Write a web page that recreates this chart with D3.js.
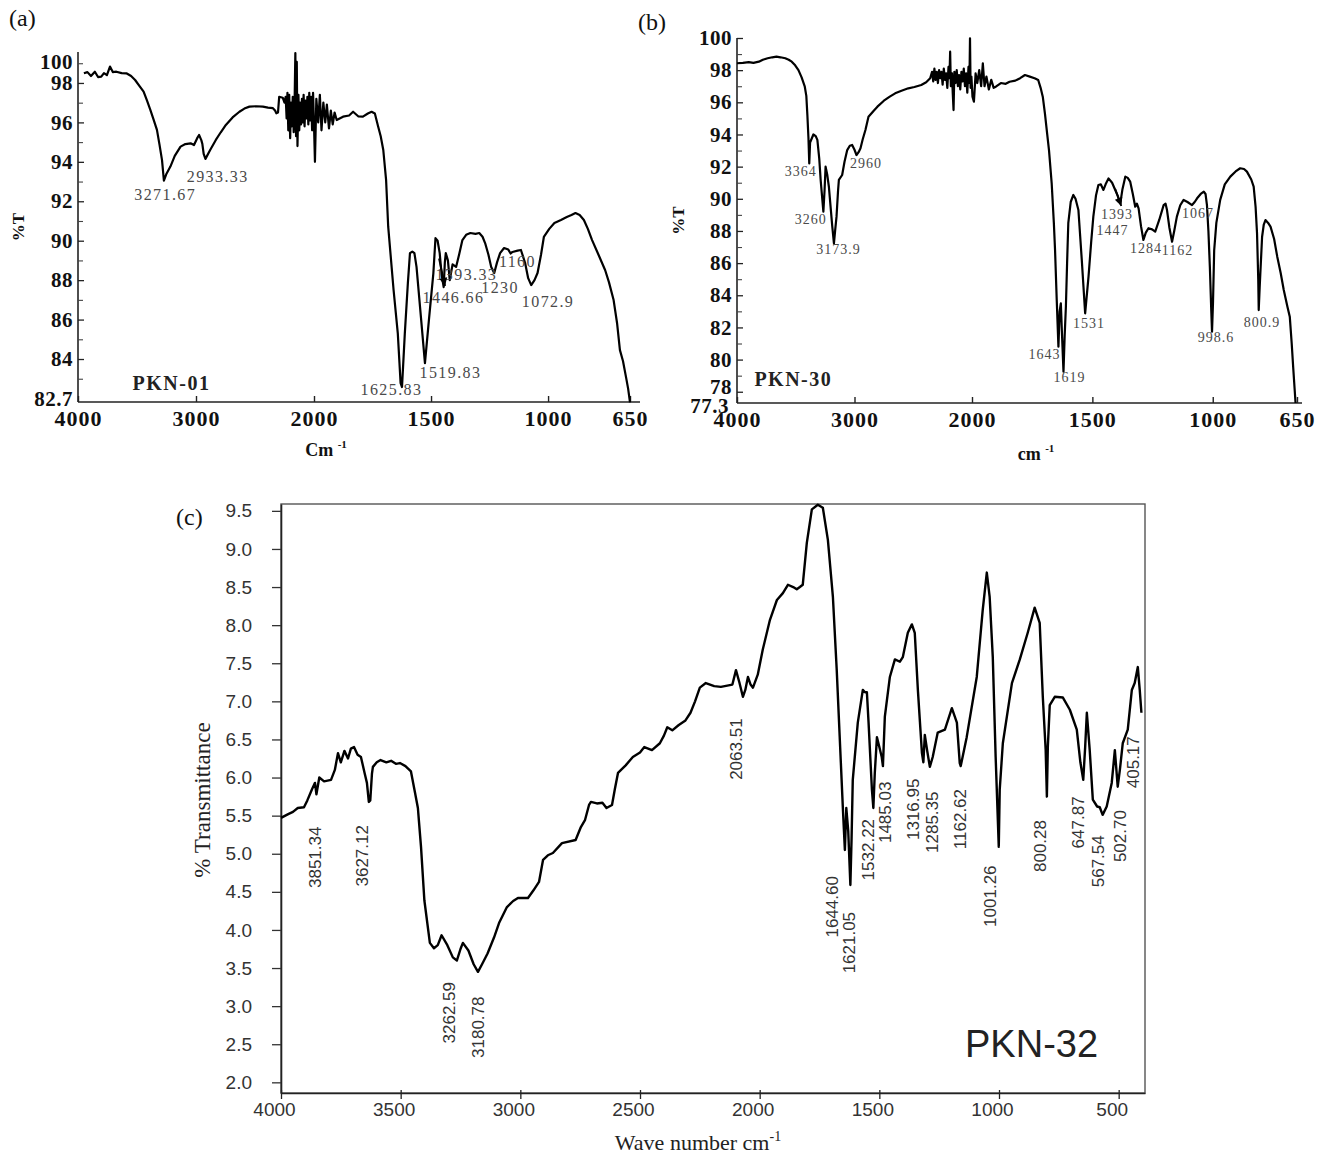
<!DOCTYPE html>
<html>
<head>
<meta charset="utf-8">
<script src="https://cdn.jsdelivr.net/npm/d3@7"></script>
<style>
  body { margin: 0; background: #fff; }
  svg { display: block; }
</style>
</head>
<body>
<div id="chart"></div>
<script>
/* FTIR spectra of PKN-01, PKN-30 and PKN-32 */

/* ---- data: [wave number, %T] ---- */
const spectrumA = [
  [3950,98.49],[3920,98.55],[3890,98.35],[3857,98.57],[3830,98.30],[3803,98.32],[3780,98.50],[3755,98.40],
  [3729,98.83],[3705,98.55],[3675,98.57],[3630,98.50],[3590,98.49],[3550,98.35],[3516,98.15],[3480,97.85],
  [3444,97.56],[3415,97.10],[3387,96.63],[3360,96.15],[3331,95.62],[3310,94.90],[3288,94.09],[3272,93.05],
  [3250,93.40],[3217,93.76],[3180,94.30],[3131,94.77],[3090,94.90],[3046,94.94],[3017,94.85],[2990,95.20],
  [2974,95.36],[2955,95.10],[2946,94.90],[2935,94.40],[2920,94.15],[2880,94.60],[2832,95.11],[2790,95.50],
  [2747,95.87],[2690,96.25],[2632,96.54],[2590,96.70],[2547,96.80],[2490,96.82],[2433,96.80],[2390,96.75],
  [2348,96.72],[2330,96.60],[2319,96.46],[2305,96.50],[2295,97.30],[2265,97.25],
  [2250,97.0],[2240,97.3],[2232,96.2],[2225,97.5],[2218,95.6],[2210,97.4],[2202,95.2],[2195,97.0],
  [2188,95.8],[2180,97.3],[2172,95.5],[2165,96.8],[2158,99.52],[2152,95.3],[2146,99.07],[2140,94.8],
  [2132,97.4],[2125,95.6],[2118,97.0],[2110,95.9],[2102,97.2],[2095,96.0],[2088,97.4],[2080,95.8],
  [2072,97.1],[2064,96.2],[2056,97.3],[2048,95.9],[2040,97.5],[2032,96.1],[2024,97.3],[2016,95.6],
  [2008,97.5],[2000,95.9],[1996,94.0],[1990,97.2],[1982,96.0],[1975,97.4],[1968,95.6],[1960,97.0],
  [1952,96.0],[1945,96.9],[1936,95.7],[1928,96.6],[1920,95.9],[1912,96.5],[1903,96.12],[1876,96.29],
  [1850,96.35],[1833,96.54],[1810,96.30],[1791,96.29],[1770,96.45],[1754,96.54],[1740,96.45],[1726,95.79],
  [1715,95.30],[1704,94.60],[1692,93.08],[1683,90.71],[1660,87.5],[1642,85.3],[1630,82.78],[1624,82.58],
  [1612,85.3],[1599,87.85],[1590,89.37],[1580,89.45],[1571,89.37],[1562,88.67],[1543,86.1],[1526,83.79],
  [1509,85.98],[1490,88.36],[1481,90.13],[1472,90.0],[1463,89.37],[1455,88.3],[1446,87.65],[1441,88.9],
  [1437,89.37],[1428,89.0],[1420,88.0],[1408,88.8],[1393,88.67],[1380,89.3],[1366,90.03],[1350,90.3],
  [1332,90.39],[1310,90.35],[1294,90.39],[1280,90.2],[1269,89.88],[1255,89.3],[1243,88.67],[1230,88.36],
  [1218,88.9],[1205,89.37],[1188,89.63],[1170,89.55],[1160,89.35],[1152,89.43],[1130,89.5],[1116,89.53],
  [1098,88.87],[1085,88.1],[1072,87.75],[1058,88.0],[1045,88.36],[1030,89.3],[1018,90.19],[995,90.6],
  [973,90.9],[945,91.05],[920,91.2],[900,91.3],[883,91.4],[865,91.3],[847,91.05],[830,90.6],
  [812,90.03],[785,89.3],[756,88.5],[740,87.9],[720,86.99],[705,85.8],[693,84.45],[680,83.9],
  [667,83.08],[658,82.5],[650,81.8]
];

const spectrumB = [
  [4000,98.43],[3950,98.45],[3900,98.50],[3860,98.45],[3814,98.53],[3780,98.65],[3739,98.74],[3700,98.80],
  [3664,98.84],[3630,98.80],[3589,98.74],[3560,98.65],[3534,98.53],[3505,98.30],[3477,98.0],[3450,97.55],
  [3423,96.97],[3410,96.40],[3401,95.2],[3392,93.8],[3385,92.2],[3378,93.5],[3350,94.0],[3330,93.9],
  [3316,93.66],[3300,92.5],[3288,91.17],[3265,89.2],[3255,90.5],[3246,92.0],[3232,91.5],[3218,90.75],
  [3200,89.2],[3189,88.27],[3175,87.23],[3165,88.0],[3153,88.89],[3140,90.5],[3133,91.17],[3105,91.48],
  [3085,92.3],[3062,93.03],[3040,93.30],[3020,93.35],[3000,93.05],[2983,92.72],[2965,92.9],[2949,93.14],
  [2930,93.7],[2907,94.28],[2881,95.1],[2840,95.45],[2805,95.73],[2750,96.1],[2700,96.35],[2654,96.56],
  [2600,96.72],[2542,96.87],[2490,96.95],[2432,97.08],[2390,97.25],[2356,97.5],
  [2340,97.9],[2330,97.3],[2320,98.1],[2310,97.4],[2300,97.9],[2290,97.2],[2280,98.0],[2270,97.5],
  [2260,97.9],[2250,97.1],[2240,98.1],[2230,97.4],[2220,97.8],[2210,96.9],[2200,98.2],[2192,97.5],
  [2186,99.15],[2180,97.0],[2170,97.8],[2164,96.6],[2157,95.52],[2150,97.9],[2140,97.2],[2130,98.0],
  [2120,97.0],[2110,97.7],[2100,96.8],[2090,97.9],[2080,97.3],[2070,98.1],[2060,97.0],[2050,97.8],
  [2040,96.6],[2030,98.2],[2022,97.2],[2017,99.98],[2012,96.9],[2005,97.6],[1998,96.35],[1992,96.04],
  [1985,97.8],[1978,97.2],[1970,98.0],[1962,97.0],[1955,98.43],[1948,97.0],[1940,97.6],[1930,96.8],
  [1920,97.4],[1910,96.9],[1901,96.97],[1880,97.2],[1860,97.15],[1844,97.28],[1820,97.35],[1800,97.5],
  [1780,97.7],[1760,97.6],[1740,97.5],[1725,97.39],[1715,96.9],[1706,96.35],[1697,95.3],[1688,94.07],
  [1680,93.0],[1669,90.96],[1660,88.5],[1655,86.8],[1648,83.7],[1641,80.8],[1636,83.0],[1631,83.5],
  [1626,81.5],[1620,79.25],[1615,81.5],[1610,83.29],[1605,86.0],[1600,88.48],[1590,89.8],[1579,90.24],
  [1570,90.0],[1558,89.3],[1544,86.2],[1530,82.88],[1516,85.16],[1505,87.3],[1496,88.89],[1485,90.2],
  [1475,90.86],[1465,90.9],[1454,90.55],[1445,90.9],[1433,91.27],[1418,91.0],[1405,90.55],[1395,90.2],
  [1384,89.72],[1375,90.6],[1363,91.38],[1353,91.3],[1343,91.07],[1332,90.3],[1322,89.51],[1315,89.7],
  [1308,89.4],[1298,88.3],[1288,87.44],[1278,87.9],[1267,88.17],[1252,88.1],[1239,87.96],[1222,88.7],
  [1204,89.61],[1196,89.7],[1190,89.3],[1180,88.2],[1169,87.33],[1160,88.0],[1149,88.89],[1135,89.6],
  [1121,89.93],[1105,89.8],[1086,89.61],[1075,89.8],[1065,90.03],[1050,90.3],[1037,90.44],[1030,90.3],
  [1024,89.6],[1018,88.0],[1012,85.78],[1006,83.0],[1003,81.74],[999,83.5],[994,86.8],[985,88.5],
  [969,89.93],[950,90.9],[927,91.38],[905,91.7],[886,91.9],[870,91.85],[858,91.69],[840,91.2],
  [830,90.76],[822,89.5],[816,87.85],[811,85.0],[809,83.08],[805,84.5],[795,87.64],[788,88.4],
  [781,88.68],[770,88.5],[760,88.27],[745,87.5],[732,86.4],[718,85.4],[705,84.33],[690,83.3],
  [680,82.67],[672,81.0],[666,79.56],[660,78.2],[656,77.3]
];

const spectrumC = [
  [4000,5.47],[3970,5.52],[3950,5.55],[3930,5.60],[3904,5.61],[3890,5.70],[3870,5.85],[3858,5.93],
  [3852,5.78],[3840,6.0],[3820,5.95],[3791,5.97],[3775,6.10],[3762,6.32],[3750,6.20],[3735,6.35],
  [3720,6.25],[3708,6.38],[3695,6.40],[3680,6.30],[3666,6.27],[3650,6.05],[3641,5.93],[3633,5.68],
  [3627,5.70],[3620,6.05],[3616,6.14],[3600,6.20],[3584,6.23],[3560,6.20],[3540,6.22],[3520,6.18],
  [3503,6.19],[3480,6.15],[3457,6.08],[3440,5.80],[3428,5.60],[3424,5.44],[3415,5.09],[3401,4.39],
  [3378,3.83],[3361,3.76],[3345,3.80],[3329,3.93],[3305,3.80],[3282,3.64],[3265,3.60],[3250,3.75],
  [3240,3.83],[3217,3.73],[3195,3.55],[3177,3.45],[3160,3.55],[3137,3.69],[3110,3.90],[3089,4.09],
  [3056,4.30],[3030,4.38],[3010,4.42],[2968,4.42],[2945,4.52],[2922,4.63],[2905,4.92],[2885,4.98],
  [2864,5.01],[2826,5.14],[2769,5.18],[2747,5.35],[2730,5.44],[2713,5.64],[2705,5.68],[2680,5.66],
  [2657,5.67],[2640,5.60],[2617,5.64],[2605,5.85],[2592,6.06],[2560,6.16],[2530,6.27],[2500,6.33],
  [2482,6.40],[2450,6.36],[2417,6.45],[2400,6.55],[2386,6.66],[2365,6.62],[2338,6.69],[2310,6.75],
  [2289,6.85],[2270,7.0],[2250,7.18],[2225,7.24],[2190,7.20],[2162,7.19],[2130,7.21],[2114,7.22],
  [2099,7.41],[2085,7.25],[2070,7.06],[2060,7.15],[2049,7.32],[2038,7.22],[2028,7.18],[2008,7.35],
  [1987,7.68],[1957,8.07],[1928,8.33],[1903,8.42],[1882,8.53],[1860,8.50],[1845,8.47],[1832,8.50],
  [1820,8.53],[1803,9.08],[1782,9.52],[1757,9.58],[1736,9.54],[1715,9.12],[1694,8.37],[1678,7.41],
  [1665,6.49],[1652,5.57],[1644,5.05],[1638,5.6],[1630,5.3],[1621,4.59],[1616,5.2],[1611,5.97],
  [1590,6.72],[1569,7.15],[1560,7.12],[1552,7.12],[1545,6.72],[1531,5.84],[1525,5.6],[1519,6.06],
  [1510,6.53],[1500,6.40],[1490,6.27],[1485,6.15],[1477,6.80],[1456,7.32],[1435,7.55],[1414,7.52],
  [1402,7.58],[1381,7.90],[1364,8.01],[1352,7.90],[1339,7.15],[1322,6.32],[1316,6.20],[1310,6.56],
  [1300,6.35],[1289,6.14],[1277,6.27],[1256,6.59],[1226,6.63],[1197,6.91],[1176,6.72],[1164,6.19],
  [1160,6.15],[1135,6.53],[1093,7.32],[1068,8.20],[1051,8.69],[1039,8.37],[1026,7.58],[1014,6.27],
  [1001,5.09],[997,5.84],[984,6.45],[946,7.24],[913,7.55],[880,7.90],[851,8.23],[830,8.03],
  [817,7.06],[805,6.36],[800,5.75],[796,6.4],[788,6.95],[767,7.06],[733,7.05],[704,6.89],
  [675,6.63],[660,6.2],[648,5.97],[640,6.4],[633,6.85],[621,6.36],[608,5.71],[590,5.62],
  [579,5.61],[567,5.51],[550,5.62],[529,5.93],[516,6.36],[504,5.88],[495,6.1],[483,6.45],
  [462,6.63],[445,7.15],[433,7.24],[420,7.45],[412,7.15],[405,6.85]
];

/* peak labels: [text, wave number, %T] where the label sits */
const peaksA = [
  ["3271.67",3261,92.06],["2933.33",2816,92.98],["1625.83",1669,82.17],["1519.83",1417,83.03],
  ["1446.66",1404,86.84],["1393.33",1349,88.0],["1230",1205,87.35],["1160",1131,88.67],["1072.9",1000,86.64]
];
const peaksB = [
  ["3364",3458,91.42],["3260",3373,88.43],["3173.9",3136,86.57],["2960",2903,91.92],["1643",1699,80.04],
  ["1619",1595,78.61],["1531",1514,81.97],["1393",1398,88.74],["1447",1416,87.75],["1284",1277,86.63],
  ["1162",1146,86.5],["1067",1061,88.81],["998.6",986,81.09],["800.9",795,82.03]
];
const peaksC = [
  ["3851.34",3833,4.55],["3627.12",3637,4.57],["3262.59",3273,2.51],["3180.78",3152,2.32],
  ["2063.51",2074,5.97],["1644.60",1673,3.90],["1621.05",1602,3.43],["1532.22",1522,4.65],
  ["1485.03",1451,5.14],["1316.95",1334,5.18],["1285.35",1255,5.01],["1162.62",1138,5.06],
  ["1001.26",1013,4.04],["800.28",804,4.76],["647.87",645,5.07],["567.54",561,4.56],
  ["502.70",469,4.89],["405.17",415,5.86]
];

/* tick values */
const xTicksAB = [4000, 3000, 2000, 1500, 1000, 650];
const yMajorA = [84, 86, 88, 90, 92, 94, 96, 98];
const yMinorA = [83, 85, 87, 89, 91, 93, 95, 97];
const yEndLabelsA = ["100", "82.7"];
const yMajorB = [78, 80, 82, 84, 86, 88, 90, 92, 94, 96, 98, 100];
const yMinorB = [79, 81, 83, 85, 87, 89, 91, 93, 95, 97, 99];
const yEndLabelB = "77.3";
const xTicksC = [4000, 3500, 3000, 2500, 2000, 1500, 1000, 500];
const yTicksC = [2.0, 2.5, 3.0, 3.5, 4.0, 4.5, 5.0, 5.5, 6.0, 6.5, 7.0, 7.5, 8.0, 8.5, 9.0, 9.5];

const serif = "'Liberation Serif','Times New Roman',serif";
const sans = "'Liberation Sans',Arial,sans-serif";

const width = 1322, height = 1154;
let svg = d3.select("#chart").append("svg")
    .attr("width", width).attr("height", height);
svg.append("rect").attr("width", width).attr("height", height).attr("fill", "#fff");

/* ---------- panels (a) and (b): old-style serif plots ---------- */
function serifPanel(p) {
    let g = svg.append("g");
    const [left] = p.x.range();
    const bottom = p.y.range()[0], top = p.y.range()[1];

    // axis lines
    g.append("line").attr("x1", left).attr("x2", p.xEnd).attr("y1", bottom).attr("y2", bottom)
        .attr("stroke", "#222").attr("stroke-width", 1.6);
    g.append("line").attr("x1", left).attr("x2", left).attr("y1", top).attr("y2", bottom)
        .attr("stroke", "#222").attr("stroke-width", 1.6);

    // x axis, ticks pointing inward
    let xa = g.append("g").attr("transform", `translate(0,${bottom})`)
        .call(d3.axisBottom(p.x).tickValues(xTicksAB).tickSize(-6).tickSizeOuter(0).tickPadding(8)
            .tickFormat(d3.format("d")));
    xa.select(".domain").remove();
    xa.selectAll("line").attr("stroke", "#222").attr("stroke-width", 1.4);
    xa.selectAll("text").attr("font-family", serif).attr("font-size", 22).attr("font-weight", "bold")
        .attr("fill", "#111").style("letter-spacing", "1px");

    // y axis major + minor, ticks inward
    let ya = g.append("g").attr("transform", `translate(${left},0)`)
        .call(d3.axisRight(p.y).tickValues(p.yMajor).tickSize(6).tickFormat(""));
    ya.select(".domain").remove();
    ya.selectAll("line").attr("stroke", "#222").attr("stroke-width", 1.3);
    let ym = g.append("g").attr("transform", `translate(${left},0)`)
        .call(d3.axisRight(p.y).tickValues(p.yMinor).tickSize(5).tickFormat(""));
    ym.select(".domain").remove();
    ym.selectAll("line").attr("stroke", "#444").attr("stroke-width", 1.1);

    // y labels
    g.selectAll(".ylab").data(p.yLabels).join("text")
        .attr("x", d => left - 5 + (d.dx || 0)).attr("y", d => d.y).attr("dy", "0.34em")
        .attr("text-anchor", "end")
        .attr("font-family", serif).attr("font-size", 21).attr("font-weight", "bold").attr("fill", "#111")
        .style("letter-spacing", "0.5px")
        .text(d => d.text);

    // spectrum
    const line = d3.line().x(d => p.x(d[0])).y(d => p.y(d[1]));
    g.append("path").datum(p.data).attr("d", line)
        .attr("fill", "none").attr("stroke", "#000").attr("stroke-width", 2.2)
        .attr("stroke-linejoin", "round");

    // peak labels
    g.selectAll(".peak").data(p.peaks).join("text")
        .attr("x", d => p.x(d[1])).attr("y", d => p.y(d[2]))
        .attr("text-anchor", "middle")
        .attr("font-family", serif).attr("font-size", p.peakSize).attr("fill", "#4a4a4a")
        .style("letter-spacing", p.peakSpacing)
        .text(d => d[0]);

    // small arrow marker
    const [a0, a1] = p.arrow;
    const x0 = p.x(a0[0]), y0 = p.y(a0[1]), x1 = p.x(a1[0]), y1 = p.y(a1[1]);
    const ang = Math.atan2(y1 - y0, x1 - x0);
    g.append("line").attr("x1", x0).attr("y1", y0).attr("x2", x1).attr("y2", y1)
        .attr("stroke", "#000").attr("stroke-width", 1.8);
    g.append("path")
        .attr("d", `M${x1},${y1}L${x1 - 9 * Math.cos(ang - 0.45)},${y1 - 9 * Math.sin(ang - 0.45)}L${x1 - 9 * Math.cos(ang + 0.45)},${y1 - 9 * Math.sin(ang + 0.45)}Z`)
        .attr("fill", "#000");

    // sample name
    g.append("text").attr("x", p.x(p.name[1])).attr("y", p.y(p.name[2]))
        .attr("font-family", serif).attr("font-size", 20).attr("font-weight", "bold").attr("fill", "#222")
        .style("letter-spacing", "1.5px")
        .text(p.name[0]);

    // titles
    g.append("text").attr("transform", `translate(${p.yTitleX},${(top + bottom) / 2}) rotate(-90)`)
        .attr("text-anchor", "middle").attr("font-family", serif).attr("font-size", 17)
        .attr("font-weight", "bold").attr("fill", "#111").text("%T");
    let xt = g.append("text").attr("x", p.xTitle[0]).attr("y", p.xTitle[1])
        .attr("text-anchor", "middle").attr("font-family", serif).attr("font-size", 18)
        .attr("font-weight", "bold").attr("fill", "#111");
    xt.append("tspan").text(p.xTitleText);
    xt.append("tspan").attr("dy", -8).attr("font-size", 11).text("-1");

    g.append("text").attr("x", p.tag[0]).attr("y", p.tag[1])
        .attr("font-family", serif).attr("font-size", 24).attr("fill", "#111").text(p.tag[2]);
}

/* panel (a) */
const xA = d3.scaleLinear().domain([4000, 2000, 650]).range([78, 314, 630]);
const yA = d3.scaleLinear().domain([81.82, 99.57]).range([402, 52]);
serifPanel({
    x: xA, y: yA, xEnd: 640, data: spectrumA,
    yMajor: yMajorA, yMinor: yMinorA.concat([99]),
    yLabels: yMajorA.map(v => ({ y: yA(v), text: v }))
        .concat([{ y: yA(99) - 1, text: yEndLabelsA[0] }, { y: yA(81.82) - 3, text: yEndLabelsA[1] }]),
    peaks: peaksA, peakSize: 16, peakSpacing: "1.4px",
    arrow: [[1466, 89.1], [1440, 87.7]],
    name: ["PKN-01", 3538, 82.42],
    yTitleX: 24, xTitle: [326, 456], xTitleText: "Cm ",
    tag: [9, 26, "(a)"]
});

/* panel (b) */
const xB = d3.scaleLinear().domain([4000, 2000, 650]).range([737, 972, 1297]);
const yB = d3.scaleLinear().domain([77.3, 100]).range([403, 38]);
serifPanel({
    x: xB, y: yB, xEnd: 1302, data: spectrumB,
    yMajor: yMajorB, yMinor: yMinorB,
    yLabels: yMajorB.map(v => ({ y: yB(v) - (v === 78 ? 5 : 0), text: v }))
        .concat([{ y: yB(77.3) + 3, text: yEndLabelB, dx: -3 }]),
    peaks: peaksB, peakSize: 14, peakSpacing: "1px",
    arrow: [[1405, 90.6], [1380, 89.55]],
    name: ["PKN-30", 3852, 78.36],
    yTitleX: 684, xTitle: [1036, 460], xTitleText: "cm ",
    tag: [638, 30, "(b)"]
});

/* ---------- panel (c) ---------- */
const xC = d3.scaleLinear().domain([4000, 390]).range([281, 1145]);
const yC = d3.scaleLinear().domain([1.86, 9.59]).range([1093, 504]);
let gc = svg.append("g");

gc.append("rect").attr("x", 281).attr("y", 504).attr("width", 1145 - 281).attr("height", 1093 - 504)
    .attr("fill", "none").attr("stroke", "#555").attr("stroke-width", 1.4);

let xca = gc.append("g").attr("transform", "translate(0,1093)")
    .call(d3.axisBottom(xC).tickValues(xTicksC).tickSize(6).tickSizeOuter(0).tickPadding(4)
        .tickFormat(d3.format("d")));
xca.select(".domain").attr("stroke", "#222").attr("stroke-width", 1.6);
xca.selectAll("line").attr("stroke", "#222").attr("stroke-width", 1.3).attr("y1", -3);
xca.selectAll("text").attr("font-family", sans).attr("font-size", 19).attr("fill", "#333").attr("dx", -7);

let yca = gc.append("g").attr("transform", "translate(281,0)")
    .call(d3.axisLeft(yC).tickValues(yTicksC).tickSize(9).tickSizeOuter(0).tickPadding(20).tickFormat(d3.format(".1f")));
yca.select(".domain").attr("stroke", "#222").attr("stroke-width", 1.6);
yca.selectAll("line").attr("stroke", "#333").attr("stroke-width", 1.3);
yca.selectAll("text").attr("font-family", sans).attr("font-size", 19).attr("fill", "#333");

const lineC = d3.line().x(d => xC(d[0])).y(d => yC(d[1]));
gc.append("path").datum(spectrumC).attr("d", lineC)
    .attr("fill", "none").attr("stroke", "#000").attr("stroke-width", 2.4)
    .attr("stroke-linejoin", "round");

gc.selectAll(".peakc").data(peaksC).join("text")
    .attr("transform", d => `translate(${xC(d[1])},${yC(d[2])}) rotate(-90)`)
    .attr("font-family", sans).attr("font-size", 17).attr("fill", "#333")
    .text(d => d[0]);

gc.append("text").attr("x", 965).attr("y", 1057)
    .attr("font-family", sans).attr("font-size", 38).attr("fill", "#222").text("PKN-32");

gc.append("text").attr("transform", "translate(210,800) rotate(-90)")
    .attr("text-anchor", "middle").attr("font-family", serif).attr("font-size", 23).attr("fill", "#222")
    .text("% Transmittance");

let xtc = gc.append("text").attr("x", 698).attr("y", 1150)
    .attr("text-anchor", "middle").attr("font-family", serif).attr("font-size", 22).attr("fill", "#222");
xtc.append("tspan").text("Wave number cm");
xtc.append("tspan").attr("dy", -9).attr("font-size", 14).text("-1");

gc.append("text").attr("x", 176).attr("y", 525)
    .attr("font-family", serif).attr("font-size", 24).attr("fill", "#111").text("(c)");
</script>
</body>
</html>
